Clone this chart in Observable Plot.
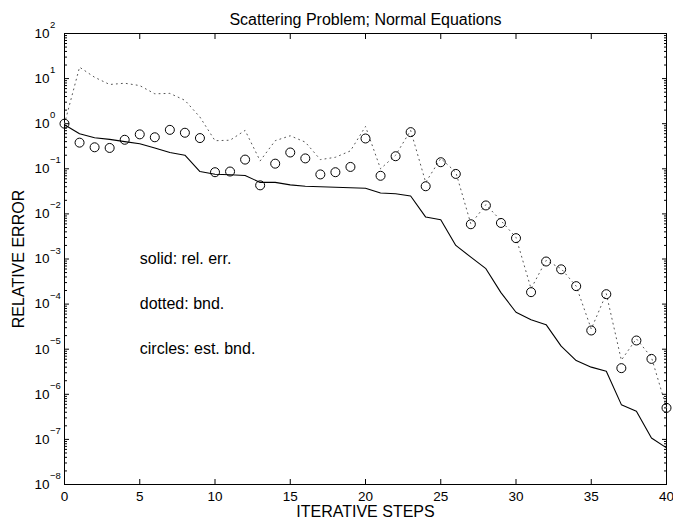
<!DOCTYPE html>
<html>
<head>
<meta charset="utf-8">
<script src="https://cdn.jsdelivr.net/npm/d3@7"></script>
<script src="https://cdn.jsdelivr.net/npm/@observablehq/plot@0.6"></script>
<style>
  html, body { margin: 0; padding: 0; background: #fff; }
</style>
</head>
<body>
<div id="chart"></div>
<script>
// ---- data ----
const steps = [0,1,2,3,4,5,6,7,8,9,10,11,12,13,14,15,16,17,18,19,20,21,22,23,24,25,26,27,28,29,30,31,32,33,34,35,36,37,38,39,40];

// solid: relative error
const relErr = [0.95,0.60,0.49,0.45,0.40,0.36,0.29,0.23,0.20,0.087,0.076,0.074,0.071,0.050,0.050,0.044,0.041,0.040,0.039,0.038,0.037,0.029,0.028,0.025,0.0085,0.0074,0.0020,0.0011,6.1e-4,1.8e-4,6.6e-5,4.5e-5,3.5e-5,1.17e-5,5.6e-6,4.0e-6,3.25e-6,5.9e-7,4.2e-7,1.07e-7,6.5e-8];

// dotted: bound
const bnd = [1.0,17.9,10.7,7.4,7.9,7.0,4.6,4.7,3.3,1.4,0.42,0.43,0.71,0.15,0.42,0.54,0.39,0.16,0.18,0.25,0.87,0.10,0.20,0.71,0.050,0.17,0.084,0.0060,0.016,0.0071,0.0030,2.2e-4,9.3e-4,6.1e-4,2.5e-4,2.8e-5,1.7e-4,5.7e-6,1.7e-5,6.6e-6,5.0e-7];

// circles: estimated bound
const estBnd = [1.0,0.38,0.30,0.29,0.44,0.58,0.50,0.73,0.63,0.48,0.084,0.087,0.16,0.043,0.13,0.23,0.17,0.075,0.084,0.11,0.47,0.070,0.19,0.65,0.041,0.14,0.077,0.0059,0.0154,0.0063,0.0029,1.84e-4,8.8e-4,5.9e-4,2.5e-4,2.6e-5,1.66e-4,3.8e-6,1.56e-5,6.1e-6,5.0e-7];

// ticks
const xTicks = [0,5,10,15,20,25,30,35,40];
const yExponents = [-8,-7,-6,-5,-4,-3,-2,-1,0,1,2];
const minorMultipliers = [2,3,4,5,6,7,8,9];

// text
const titleText = ["Scattering Problem; Normal Equations"];
const xLabel = ["ITERATIVE STEPS"];
const yLabel = ["RELATIVE ERROR"];
const annotText = ["solid: rel. err.", "dotted: bnd.", "circles: est. bnd."];
const annotX = [5, 5, 5];
const annotY = [1e-3, 1e-4, 1e-5];

// ---- derived tables ----
const series = steps.map((s, i) => ({s, rel: relErr[i], bnd: bnd[i], est: estBnd[i]}));
const yMajor = yExponents.map(e => Math.pow(10, e));
const yMinor = yExponents.slice(0, -1).flatMap(e => minorMultipliers.map(m => m * Math.pow(10, e)));
const expText = yExponents.map(e => e < 0 ? "\u2212" + (-e) : String(e));
const annots = annotText.map((t, i) => ({t, x: annotX[i], y: annotY[i]}));

const blank = () => "";

const chart = Plot.plot({
  width: 673,
  height: 522,
  marginLeft: 64,
  marginRight: 7,
  marginTop: 33,
  marginBottom: 38,
  style: {fontFamily: "'Liberation Sans', Arial, Helvetica, sans-serif", background: "#fff", color: "#000"},
  x: {domain: [0, 40]},
  y: {type: "log", domain: [1e-8, 1e2]},
  marks: [
    Plot.frame({stroke: "#000", strokeWidth: 1}),
    // inward ticks on all four sides
    Plot.axisY(yMajor, {anchor: "left", tickSize: -5, tickFormat: blank, label: null}),
    Plot.axisY(yMinor, {anchor: "left", tickSize: -3, tickFormat: blank, label: null}),
    Plot.axisY(yMajor, {anchor: "right", tickSize: -5, tickFormat: blank, label: null}),
    Plot.axisY(yMinor, {anchor: "right", tickSize: -3, tickFormat: blank, label: null}),
    Plot.axisX(xTicks, {anchor: "bottom", tickSize: -5, tickFormat: blank, label: null}),
    Plot.axisX(xTicks, {anchor: "top", tickSize: -5, tickFormat: blank, label: null}),
    // x tick labels
    Plot.axisX(xTicks, {anchor: "bottom", tickSize: 0, tickPadding: 6.5, fontSize: 13.5, label: null}),
    // y tick labels 10^k
    Plot.text(yMajor, {y: d => d, text: () => "10", frameAnchor: "left", textAnchor: "end", dx: -15, fontSize: 13.5}),
    Plot.text(yMajor, {y: d => d, text: (d, i) => expText[i], frameAnchor: "left", textAnchor: "start", dx: -14.5, dy: -8.5, fontSize: 9.5}),
    // data
    Plot.line(series, {x: "s", y: "bnd", stroke: "#555", strokeWidth: 1, strokeDasharray: "1 4"}),
    Plot.line(series, {x: "s", y: "rel", stroke: "#000", strokeWidth: 1.1}),
    Plot.dot(series, {x: "s", y: "est", r: 4.5, stroke: "#000", strokeWidth: 1, fill: "none"}),
    // annotations
    Plot.text(annots, {x: "x", y: "y", text: "t", textAnchor: "start", fontSize: 16}),
    // title and axis labels
    Plot.text(titleText, {text: d => d, frameAnchor: "top", textAnchor: "middle", dy: -20, fontSize: 16}),
    Plot.text(xLabel, {text: d => d, frameAnchor: "bottom", textAnchor: "middle", dy: 32, fontSize: 16}),
    Plot.text(yLabel, {text: d => d, frameAnchor: "left", textAnchor: "middle", dx: -46, rotate: -90, fontSize: 16})
  ]
});
document.getElementById("chart").appendChild(chart);
</script>
</body>
</html>
